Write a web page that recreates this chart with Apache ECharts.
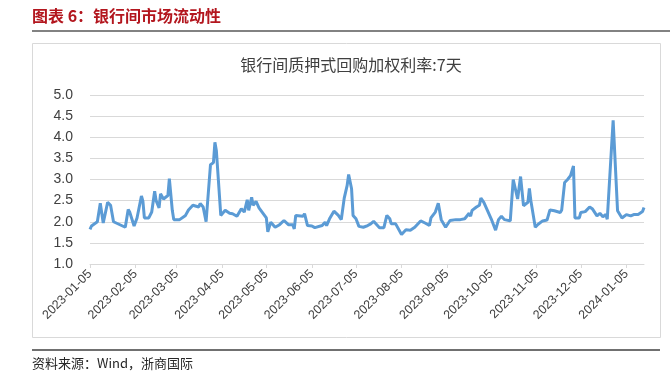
<!DOCTYPE html>
<html>
<head>
<meta charset="utf-8">
<script src="https://cdn.jsdelivr.net/npm/echarts@6/dist/echarts.min.js"></script>
<style>
html,body{margin:0;padding:0;background:#fff;}
#c{width:670px;height:383px;}
</style>
</head>
<body>
<div id="c"></div>
<script>
const headerText = '图表 6：银行间市场流动性';
const chartTitle = '银行间质押式回购加权利率:7天';
const sourceText = '资料来源：Wind，浙商国际';
const startDate = '2023-01-05';
const endDate = '2024-01-17';
const yTicks = [1.0, 1.5, 2.0, 2.5, 3.0, 3.5, 4.0, 4.5, 5.0];

const dates = [
'2023-01-05','2023-01-06','2023-01-10','2023-01-12','2023-01-14','2023-01-17','2023-01-19','2023-01-21','2023-01-29','2023-01-31',
'2023-02-01','2023-02-04','2023-02-06','2023-02-09','2023-02-10','2023-02-11','2023-02-14','2023-02-16','2023-02-18','2023-02-19',
'2023-02-21','2023-02-22','2023-02-24','2023-02-27','2023-02-28','2023-03-02','2023-03-03','2023-03-07','2023-03-11','2023-03-13',
'2023-03-16','2023-03-20','2023-03-21','2023-03-23','2023-03-25','2023-03-28','2023-03-30','2023-03-31','2023-04-01','2023-04-04',
'2023-04-07','2023-04-10','2023-04-12','2023-04-15','2023-04-18','2023-04-20','2023-04-22','2023-04-23','2023-04-25','2023-04-26',
'2023-04-28','2023-04-30','2023-05-05','2023-05-06','2023-05-08','2023-05-11','2023-05-14','2023-05-17','2023-05-20','2023-05-23',
'2023-05-24','2023-05-25','2023-05-30','2023-05-31','2023-06-02','2023-06-05','2023-06-07','2023-06-12','2023-06-14','2023-06-15',
'2023-06-17','2023-06-20','2023-06-23','2023-06-25','2023-06-27','2023-06-29','2023-06-30','2023-07-02','2023-07-03','2023-07-05',
'2023-07-07','2023-07-10','2023-07-13','2023-07-15','2023-07-17','2023-07-21','2023-07-24','2023-07-26','2023-07-28','2023-07-29',
'2023-08-01','2023-08-05','2023-08-08','2023-08-11','2023-08-14','2023-08-18','2023-08-21','2023-08-24','2023-08-25','2023-08-28',
'2023-08-30','2023-09-01','2023-09-04','2023-09-07','2023-09-11','2023-09-12','2023-09-14','2023-09-17','2023-09-20','2023-09-21',
'2023-09-22','2023-09-25','2023-09-27','2023-09-28','2023-09-30','2023-10-05','2023-10-08','2023-10-10','2023-10-12','2023-10-14',
'2023-10-18','2023-10-20','2023-10-23','2023-10-25','2023-10-27','2023-10-30','2023-10-31','2023-11-01','2023-11-04','2023-11-06',
'2023-11-09','2023-11-12','2023-11-14','2023-11-17','2023-11-21','2023-11-22','2023-11-24','2023-11-26','2023-11-28','2023-11-30',
'2023-12-01','2023-12-04','2023-12-05','2023-12-08','2023-12-11','2023-12-13','2023-12-16','2023-12-18','2023-12-20','2023-12-22',
'2023-12-23','2023-12-27','2023-12-30','2024-01-02','2024-01-05','2024-01-08','2024-01-10','2024-01-13','2024-01-16','2024-01-17'
];
const rates = [
1.82,1.90,2.00,2.44,1.97,2.46,2.39,2.00,1.87,2.29,
2.23,1.90,2.09,2.61,2.49,2.09,2.09,2.23,2.72,2.50,
2.33,2.66,2.54,2.62,3.02,2.27,2.05,2.05,2.15,2.28,
2.39,2.35,2.43,2.35,2.00,3.35,3.40,3.88,3.68,2.15,
2.27,2.20,2.19,2.13,2.31,2.23,2.52,2.27,2.58,2.39,
2.48,2.33,2.09,1.76,1.99,1.87,1.93,2.03,1.93,1.93,
1.83,2.15,2.13,2.19,1.91,1.90,1.86,1.91,1.99,1.91,
2.07,2.25,2.15,2.05,2.56,2.86,3.12,2.78,2.15,2.07,
1.89,1.87,1.91,1.95,2.01,1.86,1.86,2.15,2.07,1.95,
1.95,1.70,1.81,1.80,1.87,2.02,1.97,1.91,2.09,2.23,
2.44,2.05,1.87,2.03,2.05,2.02,2.05,2.07,2.20,2.13,
2.27,2.35,2.39,2.56,2.46,2.07,1.80,2.05,2.13,2.05,
2.02,3.00,2.54,3.07,2.38,2.46,2.79,2.50,1.87,1.94,
2.02,2.04,2.28,2.26,2.22,2.28,2.93,3.00,3.09,3.32,
2.09,2.09,2.22,2.24,2.35,2.30,2.14,2.20,2.12,2.17,
2.06,4.40,2.26,2.09,2.17,2.14,2.17,2.17,2.24,2.34
];

// calendar-day categories for the x axis
const days = [];
(function () {
  let d = new Date(startDate + 'T00:00:00Z');
  const end = new Date(endDate + 'T00:00:00Z');
  while (d <= end) {
    days.push(d.toISOString().slice(0, 10));
    d = new Date(d.getTime() + 86400000);
  }
})();
const isMonthTick = function (idx, val) { return val.slice(8) === '05'; };

const cjk = '"Noto Sans CJK SC", "Noto Sans", sans-serif';
const latin = '"Liberation Sans", "Noto Sans CJK SC", sans-serif';

const chart = echarts.init(document.getElementById('c'), null, { renderer: 'canvas' });
chart.setOption({
  animation: false,
  backgroundColor: '#ffffff',
  title: [{
    text: chartTitle,
    left: 346, top: 52, textAlign: 'center',
    textStyle: { fontFamily: cjk, fontSize: 16, fontWeight: 'normal', color: '#404040' }
  }],
  graphic: [
    { type: 'text', left: 32, top: 8, style: { text: headerText, fontFamily: cjk, fontSize: 16, fontWeight: 'bold', fill: '#B3161E' } },
    { type: 'line', shape: { x1: 32, y1: 31, x2: 670, y2: 31 }, style: { stroke: '#595959', lineWidth: 1.5 } },
    { type: 'rect', shape: { x: 32.5, y: 43.5, width: 628, height: 294 }, style: { fill: 'none', stroke: '#D9D9D9', lineWidth: 1 } },
    { type: 'line', shape: { x1: 32, y1: 350, x2: 660, y2: 350 }, style: { stroke: '#404040', lineWidth: 1.5 } },
    { type: 'text', left: 32, top: 357, style: { text: sourceText, fontFamily: cjk, fontSize: 13, fill: '#262626' } }
  ],
  grid: { left: 90, right: 26, top: 95, bottom: 119 },
  xAxis: {
    type: 'category',
    data: days,
    boundaryGap: false,
    axisLine: { lineStyle: { color: '#D9D9D9', width: 1 } },
    axisTick: { interval: isMonthTick, length: 4, lineStyle: { color: '#D9D9D9' } },
    axisLabel: {
      interval: isMonthTick, rotate: 45, margin: 8,
      fontFamily: latin, fontSize: 12.5, color: '#404040'
    },
    splitLine: { show: false }
  },
  yAxis: {
    type: 'value',
    min: yTicks[0], max: yTicks[yTicks.length - 1], interval: 0.5,
    axisLine: { show: false },
    axisTick: { show: false },
    axisLabel: { margin: 17, fontFamily: latin, fontSize: 14, color: '#404040',
      formatter: function (v) { return v.toFixed(1); } },
    splitLine: { lineStyle: { color: '#D9D9D9', width: 1 } }
  },
  series: [{
    type: 'line',
    data: dates.map(function (d, i) { return [d, rates[i]]; }),
    showSymbol: false,
    symbol: 'none',
    lineStyle: { color: '#5B9BD5', width: 3 },
    itemStyle: { color: '#5B9BD5' }
  }]
});
</script>
</body>
</html>
